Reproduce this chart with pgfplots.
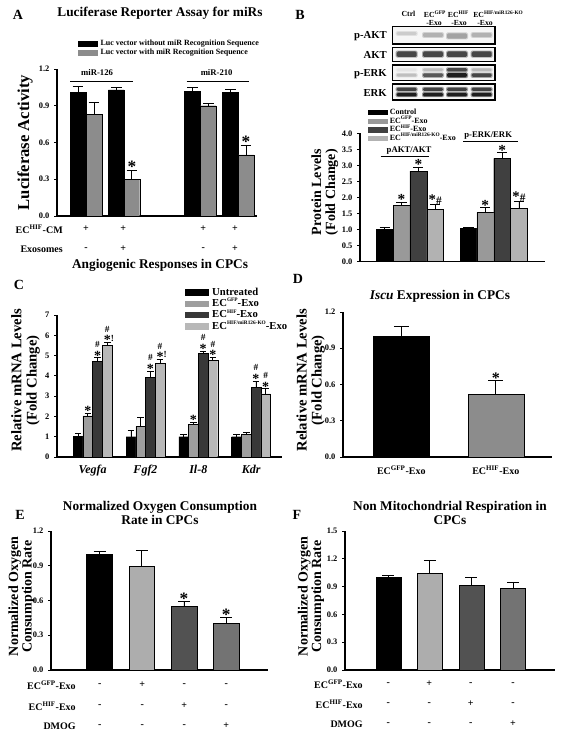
\documentclass[border=0pt]{standalone}
\usepackage{fontspec}
\setmainfont{Liberation Serif}
\usepackage{pgfplots}
\pgfplotsset{compat=1.18}
\newcommand{\fs}[1]{\fontsize{#1}{\fpeval{#1*1.22}}\selectfont\bfseries}
\newcommand{\fz}[2]{\fontsize{#1}{#2}\selectfont\bfseries}
\newcommand{\sps}[1]{\textsuperscript{#1}}
\newcommand{\tsp}[1]{\raisebox{0.45em}{\fontsize{4}{4}\selectfont #1}}
\definecolor{hA}{gray}{0.55}
\definecolor{bG}{gray}{0.60}
\definecolor{bH}{gray}{0.25}
\definecolor{bK}{gray}{0.70}
\definecolor{cG}{gray}{0.62}
\definecolor{cH}{gray}{0.22}
\definecolor{cK}{gray}{0.72}
\definecolor{eG}{gray}{0.68}
\definecolor{eH}{gray}{0.32}
\definecolor{eD}{gray}{0.45}
\pgfplotsset{
  panel/.style={scale only axis, anchor=south west, clip=false,
    axis x line*=bottom, axis y line*=left,
    axis line style={line width=0.8pt, black},
    ytick pos=left, tick align=outside, major tick length=2.2pt,
    every tick/.append style={line width=0.6pt, black},
    xtick style={draw=none}, xtick=\empty,
    ymin=0,
    /pgf/number format/assume math mode=true,
    tick label style={font=\fs{6.3}},
    yticklabel style={/pgf/number format/fixed, /pgf/number format/fixed zerofill, /pgf/number format/precision=1},
    ylabel style={font=\fz{10.5}{11}, align=center, anchor=center},
    title style={font=\fz{10}{10.5}, align=center, anchor=center},
    legend cell align=left,
    legend style={draw=none, fill=none, anchor=north west, inner sep=0pt, outer sep=0pt},
  },
  sw/.style n args={3}{legend image code/.code={\fill[#1] (0pt,-#3) rectangle (#2,#3);}},
  eb/.style={error bars/.cd, y dir=plus, y explicit,
    error bar style={line width=0.6pt, black},
    error mark options={rotate=90, mark size=#1, line width=0.6pt, black}},
}
% asterisk
\newcommand{\mS}[3][13]{\node[anchor=base, inner sep=0pt, yshift=-2pt, font=\fs{#1}] at (axis cs:#2,#3) {*};}
% asterisk with !
\newcommand{\mSX}[2]{\node[anchor=base, inner sep=0pt, yshift=-1.5pt, font=\fs{10.5}] at (axis cs:#1,#2) {*\rlap{\raisebox{2.6pt}{\fs{7}!}}};}
% hash above
\newcommand{\mH}[2]{\node[anchor=base, inner sep=0pt, yshift=7.6pt, font=\fs{7}] at (axis cs:#1,#2) {\#};}
% asterisk and hash side by side
\newcommand{\mSH}[2]{\node[anchor=base, inner sep=0pt, yshift=0pt, font=\fs{11}] at (axis cs:#1,#2) {*\fs{8.5}\#};}
\newcommand{\band}[4]{%
  \fill[#3, opacity=0.45, rounded corners=1pt] ({#1-11},{#2-#4-0.8}) rectangle ({#1+11},{#2+#4+0.8});
  \fill[#3, rounded corners=1pt] ({#1-10},{#2-#4}) rectangle ({#1+10},{#2+#4});}
\begin{document}
\begin{tikzpicture}
\path[use as bounding box] (0pt,0pt) rectangle (423pt,-553.5pt);

%%%%%%%%%%%%%%%% Panel A
\begin{axis}[panel, at={(42.75pt,-162pt)}, width=150pt, height=110.25pt,
  xmin=0, xmax=12.74, ymax=1.2, ytick={0,0.3,0.6,0.9,1.2},
  ylabel={Luciferase Activity}, ylabel style={at={(axis description cs:-0.16,0.5)}, font=\fz{12.5}{13}},
  title={Luciferase Reporter Assay for miRs}, title style={at={(axis description cs:0.515,1.327)}},
  legend style={at={(axis description cs:0.105,1.197)}, font=\fs{6},
    nodes={inner sep=0pt, text height=4.2pt, text depth=1.2pt}, row sep=1.3pt, column sep=2.5pt}]
\addlegendimage{sw={black}{14pt}{1.9pt}}
\addlegendentry{Luc vector without miR Recognition Sequence}
\addlegendimage{sw={hA}{14pt}{1.9pt}}
\addlegendentry{Luc vector with miR Recognition Sequence}
\addplot[ybar, bar width=1, bar shift=0pt, fill=black, draw=black, line width=0.3pt, forget plot, eb=4pt]
  table[x=x, y=y, y error=e] {
x y e
1.34 1.01 0.05
3.77 1.03 0.02
8.63 1.02 0.03
11.05 1.01 0.025
};
\addplot[ybar, bar width=1, bar shift=0pt, fill=hA, draw=black, line width=0.3pt, forget plot, eb=4pt]
  table[x=x, y=y, y error=e] {
x y e
2.36 0.83 0.10
4.77 0.30 0.074
9.64 0.90 0.02
12.04 0.50 0.08
};
\mS{4.77}{0.374}
\mS{12.04}{0.58}
\draw[line width=0.6pt] (axis cs:0.83,1.102) -- (axis cs:4.84,1.102);
\node[font=\fs{6.5}] at (axis cs:2.55,1.17) {miR-126};
\draw[line width=0.6pt] (axis cs:8.26,1.102) -- (axis cs:12.25,1.102);
\node[font=\fs{6.5}] at (axis cs:10.17,1.17) {miR-210};
\end{axis}

%%%%%%%%%%%%%%%% Panel B (chart)
\begin{axis}[panel, at={(270pt,-196pt)}, width=138.75pt, height=96pt,
  xmin=0, xmax=11, ymax=4, ytick={0,0.5,1,1.5,2,2.5,3,3.5,4},
  ylabel={Protein Levels\\(Fold Change)}, ylabel style={at={(axis description cs:-0.19,0.54)}, font=\fz{10.5}{10.5}},
  legend style={at={(axis description cs:0.043,1.19)}, font=\fs{6},
    nodes={inner sep=0pt, text height=4pt, text depth=1.1pt}, row sep=1.4pt, column sep=2pt}]
\addlegendimage{sw={black}{14pt}{1.6pt}}\addlegendentry{Control}
\addlegendimage{sw={bG}{14pt}{1.6pt}}\addlegendentry{EC\tsp{GFP}-Exo}
\addlegendimage{sw={bH}{14pt}{1.6pt}}\addlegendentry{EC\tsp{HIF}-Exo}
\addlegendimage{sw={bK}{14pt}{1.6pt}}\addlegendentry{EC\tsp{HIF/miR126-KO}-Exo}
\addplot[ybar, bar width=1, bar shift=0pt, fill=black, draw=black, line width=0.3pt, forget plot, eb=3.8pt]
  table[x=x, y=y, y error=e] {
x y e
1.47 1.01 0.05
6.45 1.03 0.02
};
\addplot[ybar, bar width=1, bar shift=0pt, fill=bG, draw=black, line width=0.3pt, forget plot, eb=3.8pt]
  table[x=x, y=y, y error=e] {
x y e
2.47 1.76 0.09
7.45 1.53 0.14
};
\addplot[ybar, bar width=1, bar shift=0pt, fill=bH, draw=black, line width=0.3pt, forget plot, eb=3.8pt]
  table[x=x, y=y, y error=e] {
x y e
3.47 2.82 0.13
8.45 3.22 0.18
};
\addplot[ybar, bar width=1, bar shift=0pt, fill=bK, draw=black, line width=0.3pt, forget plot, eb=3.8pt]
  table[x=x, y=y, y error=e] {
x y e
4.47 1.63 0.16
9.45 1.66 0.20
};
\mS[11.5]{2.47}{1.85}
\mS[11.5]{3.47}{2.95}
\mSH{4.47}{1.79}
\mS[11.5]{7.45}{1.67}
\mS[11.5]{8.45}{3.40}
\mSH{9.45}{1.86}
\draw[line width=0.6pt] (axis cs:1.23,3.29) -- (axis cs:4.12,3.29);
\node[font=\fs{6.5}] at (axis cs:2.92,3.46) {pAKT/AKT};
\draw[line width=0.6pt] (axis cs:6.13,3.76) -- (axis cs:9.4,3.76);
\node[font=\fs{6.5}] at (axis cs:7.62,3.93) {p-ERK/ERK};
\end{axis}

%%%%%%%%%%%%%%%% Panel C
\begin{axis}[panel, at={(42.75pt,-342.75pt)}, width=168.75pt, height=106.5pt,
  xmin=-0.676, xmax=3.585, ymax=7, ytick={0,1,2,3,4,5,6,7},
  yticklabel style={/pgf/number format/precision=0},
  xtick={0,1,2,3}, xticklabels={Vegfa,Fgf2,Il-8,Kdr},
  xticklabel style={font=\fs{9}\itshape, yshift=-0.5pt},
  ylabel={Relative mRNA Levels\\(Fold Change)}, ylabel style={at={(axis description cs:-0.14,0.54)}, font=\fz{11}{11.3}},
  title={Angiogenic Responses in CPCs}, title style={at={(axis description cs:0.458,1.296)}},
  legend style={at={(axis description cs:0.569,1.195)}, font=\fs{8},
    nodes={inner sep=0pt, text height=6pt, text depth=1.6pt}, row sep=0.9pt, column sep=3pt}]
\addlegendimage{sw={black}{17pt}{2pt}}\addlegendentry{Untreated}
\addlegendimage{sw={cG}{17pt}{2pt}}\addlegendentry{EC\tsp{GFP}-Exo}
\addlegendimage{sw={cH}{17pt}{2pt}}\addlegendentry{EC\tsp{HIF}-Exo}
\addlegendimage{sw={cK}{17pt}{2pt}}\addlegendentry{EC\tsp{HIF/miR126-KO}-Exo}
\addplot[ybar, bar width=0.184, bar shift=0pt, fill=black, draw=black, line width=0.3pt, forget plot, eb=2.5pt]
  table[x=x, y=y, y error=e] {
x y e
-0.276 1.01 0.14
0.724 1.00 0.29
1.724 1.00 0.09
2.724 1.00 0.13
};
\addplot[ybar, bar width=0.184, bar shift=0pt, fill=cG, draw=black, line width=0.3pt, forget plot, eb=2.5pt]
  table[x=x, y=y, y error=e] {
x y e
-0.092 2.03 0.13
0.908 1.50 0.47
1.908 1.60 0.12
2.908 1.10 0.13
};
\addplot[ybar, bar width=0.184, bar shift=0pt, fill=cH, draw=black, line width=0.3pt, forget plot, eb=2.5pt]
  table[x=x, y=y, y error=e] {
x y e
0.092 4.70 0.20
1.092 3.92 0.32
2.092 5.12 0.11
3.092 3.42 0.33
};
\addplot[ybar, bar width=0.184, bar shift=0pt, fill=cK, draw=black, line width=0.3pt, forget plot, eb=2.5pt]
  table[x=x, y=y, y error=e] {
x y e
0.276 5.52 0.12
1.276 4.62 0.20
2.276 4.75 0.17
3.276 3.11 0.25
};
\mS[10.5]{-0.092}{2.16}
\mS[10.5]{0.092}{4.90}\mH{0.092}{4.90}
\mSX{0.276}{5.64}\mH{0.276}{5.64}
\mS[10.5]{1.092}{4.24}\mH{1.092}{4.24}
\mSX{1.276}{4.82}\mH{1.276}{4.82}
\mS[10.5]{1.908}{1.72}
\mS[10.5]{2.092}{5.23}\mH{2.092}{5.23}
\mS[10.5]{2.276}{4.92}\mH{2.276}{4.92}
\mS[10.5]{3.092}{3.75}\mH{3.092}{3.75}
\mS[10.5]{3.276}{3.36}\mH{3.276}{3.36}
\end{axis}

%%%%%%%%%%%%%%%% Panel D
\begin{axis}[panel, at={(257.25pt,-342.75pt)}, width=156.75pt, height=108.75pt,
  xmin=-0.617, xmax=1.595, ymax=1.2, ytick={0,0.3,0.6,0.9,1.2},
  xtick={0,1}, xticklabels={EC\sps{GFP}-Exo,EC\sps{HIF}-Exo},
  xticklabel style={font=\fs{7.5}, yshift=-1pt},
  ylabel={Relative mRNA Levels\\(Fold Change)}, ylabel style={at={(axis description cs:-0.155,0.53)}, font=\fz{11}{11.3}},
  title={\textit{Iscu} Expression in CPCs}, title style={at={(axis description cs:0.464,1.055)}}]
\addplot[ybar, bar width=0.593, bar shift=0pt, fill=black, draw=black, line width=0.3pt, forget plot, eb=5.5pt]
  table[x=x, y=y, y error=e] {
x y e
0 1.00 0.08
};
\addplot[ybar, bar width=0.593, bar shift=0pt, fill=hA, draw=black, line width=0.3pt, forget plot, eb=5.5pt]
  table[x=x, y=y, y error=e] {
x y e
1 0.52 0.11
};
\mS[12]{1}{0.63}
\end{axis}

%%%%%%%%%%%%%%%% Panel E
\begin{axis}[panel, at={(38.25pt,-502.5pt)}, width=162.75pt, height=104.25pt,
  xmin=-1.15, xmax=3.99, ymax=1.2, ytick={0,0.3,0.6,0.9,1.2},
  ylabel={Normalized Oxygen\\Consumption Rate}, ylabel style={at={(axis description cs:-0.136,0.53)}, font=\fz{10.5}{10}},
  title={Normalized Oxygen Consumption\\Rate in CPCs}, title style={at={(axis description cs:0.502,1.072)}}]
\addplot[ybar, bar width=0.61, bar shift=0pt, fill=black, draw=black, line width=0.3pt, forget plot, eb=4.5pt]
  table[x=x, y=y, y error=e] {
x y e
0 1.00 0.02
};
\addplot[ybar, bar width=0.61, bar shift=0pt, fill=eG, draw=black, line width=0.3pt, forget plot, eb=4.5pt]
  table[x=x, y=y, y error=e] {
x y e
1 0.90 0.13
};
\addplot[ybar, bar width=0.61, bar shift=0pt, fill=eH, draw=black, line width=0.3pt, forget plot, eb=4.5pt]
  table[x=x, y=y, y error=e] {
x y e
2 0.55 0.04
};
\addplot[ybar, bar width=0.61, bar shift=0pt, fill=eD, draw=black, line width=0.3pt, forget plot, eb=4.5pt]
  table[x=x, y=y, y error=e] {
x y e
3 0.40 0.05
};
\mS{2}{0.59}
\mS{3}{0.45}
\end{axis}

%%%%%%%%%%%%%%%% Panel F
\begin{axis}[panel, at={(258.75pt,-502.5pt)}, width=157.5pt, height=104.25pt,
  xmin=-1.04, xmax=4.01, ymax=1.5, ytick={0,0.3,0.6,0.9,1.2,1.5},
  ylabel={Normalized Oxygen\\Consumption Rate}, ylabel style={at={(axis description cs:-0.162,0.53)}, font=\fz{10.5}{10}},
  title={Non Mitochondrial Respiration in\\CPCs}, title style={at={(axis description cs:0.5,1.072)}}]
\addplot[ybar, bar width=0.6, bar shift=0pt, fill=black, draw=black, line width=0.3pt, forget plot, eb=4.5pt]
  table[x=x, y=y, y error=e] {
x y e
0 1.00 0.02
};
\addplot[ybar, bar width=0.6, bar shift=0pt, fill=eG, draw=black, line width=0.3pt, forget plot, eb=4.5pt]
  table[x=x, y=y, y error=e] {
x y e
1 1.05 0.13
};
\addplot[ybar, bar width=0.6, bar shift=0pt, fill=eH, draw=black, line width=0.3pt, forget plot, eb=4.5pt]
  table[x=x, y=y, y error=e] {
x y e
2 0.92 0.08
};
\addplot[ybar, bar width=0.6, bar shift=0pt, fill=eD, draw=black, line width=0.3pt, forget plot, eb=4.5pt]
  table[x=x, y=y, y error=e] {
x y e
3 0.88 0.07
};
\end{axis}

%%%%%%%%%%%%%%%% Text and blot (pixel coordinates)
\begin{scope}[x=0.75pt, y=-0.75pt]
% panel letters
\node[font=\fs{10.5}] at (18,15) {A};
\node[font=\fs{10.5}] at (300,15) {B};
\node[font=\fs{10.5}] at (19,285) {C};
\node[font=\fs{10.5}] at (298,279) {D};
\node[font=\fs{10.5}] at (20,515) {E};
\node[font=\fs{10.5}] at (297,515) {F};
% panel A condition rows
\node[font=\fs{7.5}, anchor=east, inner sep=0pt] at (63,229) {EC\sps{HIF}-CM};
\node[font=\fs{7.5}, anchor=east, inner sep=0pt] at (63,249) {Exosomes};
\foreach \x/\s in {86/+,123.3/+,203.3/+,235/+} \node[font=\fs{7.5}] at (\x,229) {\s};
\foreach \x/\s in {86/-,123.3/+,203.3/-,235/+} \node[font=\fs{7.5}] at (\x,249) {\s};
% panel E condition rows
\node[font=\fs{7.5}, anchor=east, inner sep=0pt] at (76,685) {EC\sps{GFP}-Exo};
\node[font=\fs{7.5}, anchor=east, inner sep=0pt] at (76,706) {EC\sps{HIF}-Exo};
\node[font=\fs{7.5}, anchor=east, inner sep=0pt] at (76,726) {DMOG};
\foreach \x/\s in {99.7/-,142.2/+,184.2/-,226.2/-} \node[font=\fs{7.5}] at (\x,685) {\s};
\foreach \x/\s in {99.7/-,142.2/-,184.2/+,226.2/-} \node[font=\fs{7.5}] at (\x,706) {\s};
\foreach \x/\s in {99.7/-,142.2/-,184.2/-,226.2/+} \node[font=\fs{7.5}] at (\x,726) {\s};
% panel F condition rows
\node[font=\fs{7.5}, anchor=east, inner sep=0pt] at (363,684) {EC\sps{GFP}-Exo};
\node[font=\fs{7.5}, anchor=east, inner sep=0pt] at (363,704) {EC\sps{HIF}-Exo};
\node[font=\fs{7.5}, anchor=east, inner sep=0pt] at (363,724) {DMOG};
\foreach \x/\s in {388.2/-,429.2/+,470.8/-,513/-} \node[font=\fs{7.5}] at (\x,684) {\s};
\foreach \x/\s in {388.2/-,429.2/-,470.8/+,513/-} \node[font=\fs{7.5}] at (\x,704) {\s};
\foreach \x/\s in {388.2/-,429.2/-,470.8/-,513/+} \node[font=\fs{7.5}] at (\x,724) {\s};
% blot headers
\node[font=\fs{5.8}] at (408.5,14) {Ctrl};
\node[font=\fs{5.8}] at (435,14) {EC\sps{GFP}};
\node[font=\fs{5.8}] at (434,23) {-Exo};
\node[font=\fs{5.8}] at (458.5,14) {EC\sps{HIF}};
\node[font=\fs{5.8}] at (459,23) {-Exo};
\node[font=\fs{5.8}, anchor=west, inner sep=0pt] at (473,14) {EC\tsp{HIF/miR126-KO}};
\node[font=\fs{5.8}] at (485,23) {-Exo};
% blot row labels
\node[font=\fs{8}, anchor=east, inner sep=0pt] at (387,36) {p-AKT};
\node[font=\fs{8}, anchor=east, inner sep=0pt] at (387,55) {AKT};
\node[font=\fs{8}, anchor=east, inner sep=0pt] at (387,74) {p-ERK};
\node[font=\fs{8}, anchor=east, inner sep=0pt] at (387,93) {ERK};
% blot boxes
\foreach \ya/\yb in {26.7/44, 47.3/61.7, 65/80.5, 84/100}
  \fill[gray!7] (392.7,\ya) rectangle (495,\yb);
% p-AKT
\band{406.7}{33.5}{gray!40}{1.6}
\band{433}{35}{gray!60}{2.1}
\band{457}{36}{gray!72}{2.7}
\band{481.7}{35}{gray!60}{2.1}
% AKT
\foreach \x in {406.7,433,457,481.7} {\band{\x}{54.2}{black!72}{2.7}}
% p-ERK
\band{406.7}{69.8}{gray!20}{1.3}
\band{433}{69.8}{gray!50}{1.4}
\band{457}{69.8}{black!72}{1.7}
\band{481.7}{69.8}{gray!55}{1.4}
\band{406.7}{75.2}{gray!50}{1.5}
\band{433}{75.2}{black!65}{1.8}
\band{457}{75.2}{black!88}{2.1}
\band{481.7}{75.2}{black!72}{1.8}
% ERK
\foreach \x in {406.7,433,457,481.7} {\band{\x}{89.3}{black!75}{1.6}\band{\x}{94.6}{black!88}{1.8}}
\foreach \ya/\yb in {26.7/44, 47.3/61.7, 65/80.5, 84/100}
  \draw[line width=1.1pt] (392.7,\ya) rectangle (495,\yb);
\end{scope}
\end{tikzpicture}
\end{document}
